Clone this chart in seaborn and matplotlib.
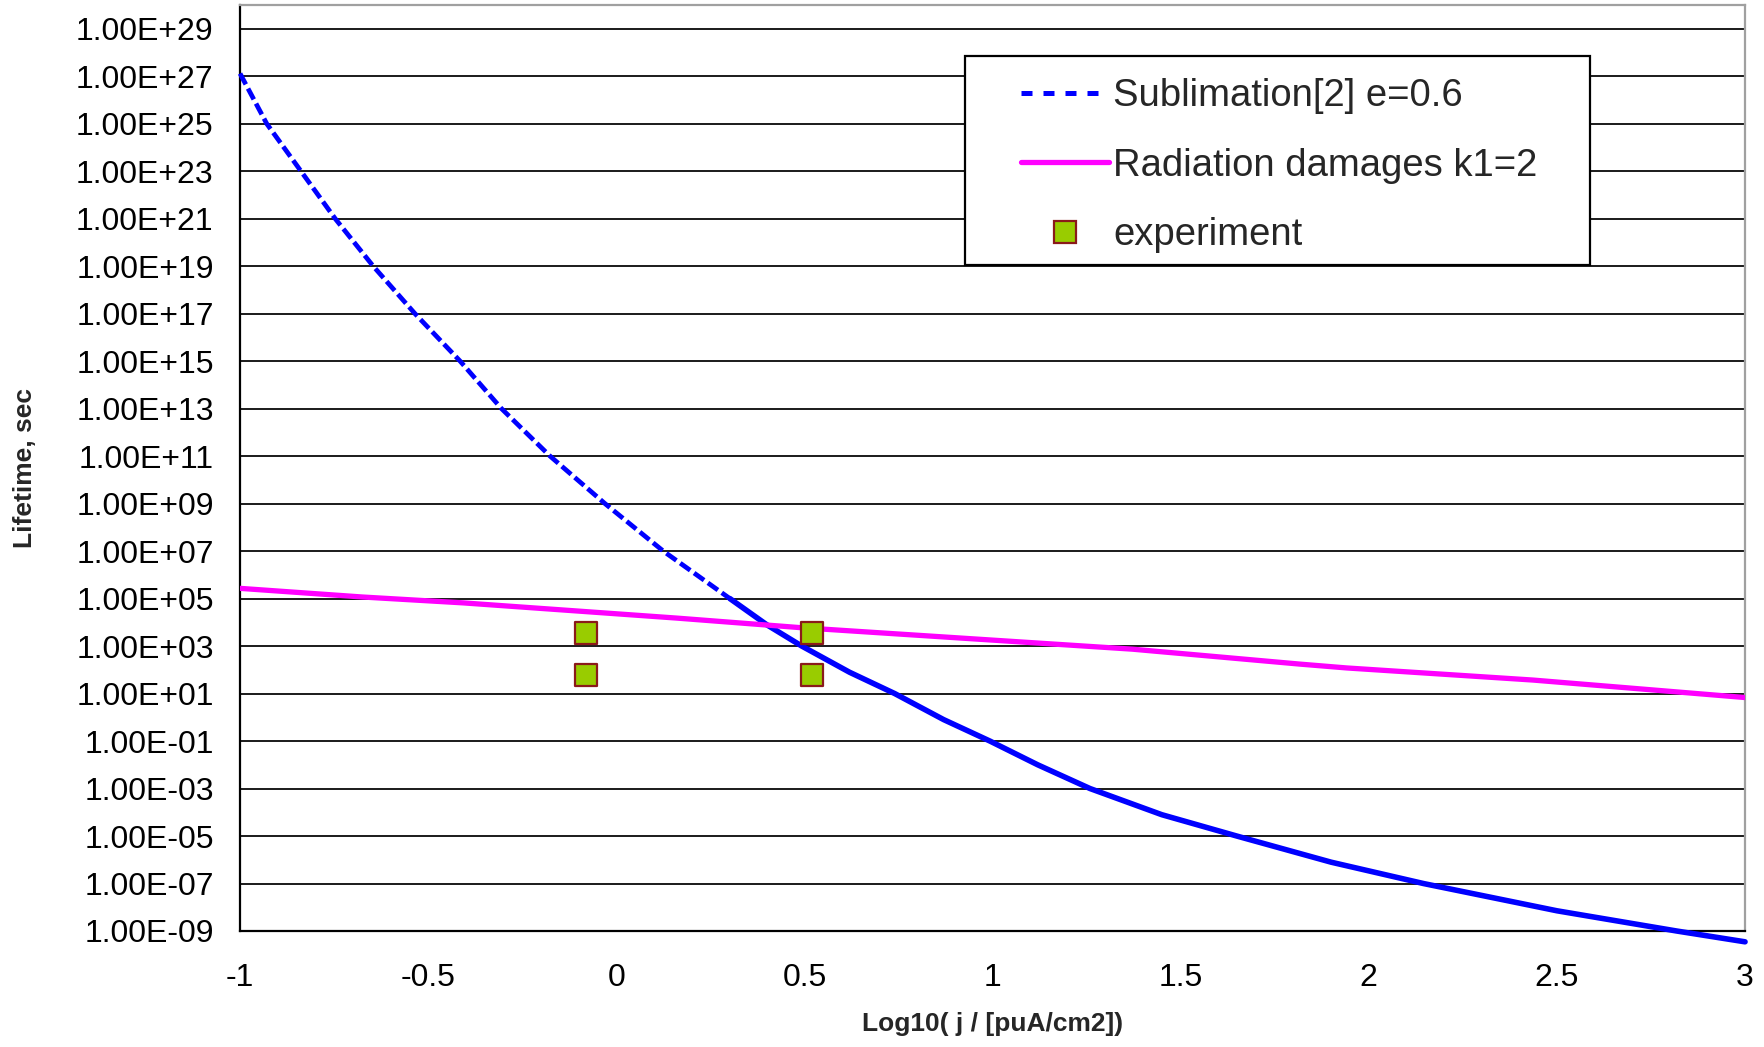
import numpy as np
import matplotlib
matplotlib.use("Agg")
import matplotlib.pyplot as plt
import seaborn as sns
from matplotlib.lines import Line2D
from matplotlib.patches import Rectangle
from matplotlib.ticker import FuncFormatter, FixedLocator

# sublimation curve (seconds)
sub_x = [-1.0, -0.929, -0.838, -0.747, -0.646, -0.535, -0.415, -0.305, -0.176, -0.030,
         0.125, 0.302, 0.4, 0.493, 0.62, 0.74, 0.87, 0.993, 1.12, 1.259, 1.45, 1.649,
         1.9, 2.145, 2.5, 2.818, 3.0]
sub_y = [1.3e27, 1e25, 1e23, 1e21, 1e19, 1e17, 1e15, 1e13, 1e11, 1e9,
         1e7, 1e5, 7.9e3, 1e3, 79, 10, 0.8, 0.1, 1e-2, 1e-3, 7.9e-5, 1e-5,
         7.9e-7, 1e-7, 7.1e-9, 1e-9, 3.5e-10]

# radiation damages curve
rad_x = [-1.0, -0.676, -0.407, 0.163, 0.488, 0.753, 1.372, 1.817, 1.941, 2.437, 3.0]
rad_y = [2.7e5, 1.17e5, 6.6e4, 1.5e4, 6.0e3, 3.2e3, 740, 174, 120, 37, 6.8]

# experiment points
exp_x = [-0.08, -0.08, 0.52, 0.52]
exp_y = [3600, 60, 3600, 60]

xticks = [-1, -0.5, 0, 0.5, 1, 1.5, 2, 2.5, 3]
yticks = [10.0 ** e for e in range(-9, 30, 2)]

labels = ["Sublimation[2] e=0.6", "Radiation damages k1=2", "experiment"]

sns.set_style("white")
plt.rcParams["font.family"] = ["Liberation Sans", "DejaVu Sans"]
plt.rcParams["axes.unicode_minus"] = False

fig = plt.figure(figsize=(17.65, 10.47), dpi=100)
ax = fig.add_axes([0.136, 0.1108, 0.8527, 0.8844])
ax.set_yscale("log")

sub_x = np.array(sub_x)
sub_y = np.array(sub_y)
top = sub_x <= 0.302
low = sub_x >= 0.302

sns.lineplot(x=sub_x[top], y=sub_y[top], ax=ax, color="blue", lw=3.4,
             linestyle=(0, (2.6, 1.0)), clip_on=False, zorder=3)
sns.lineplot(x=sub_x[low], y=sub_y[low], ax=ax, color="blue", lw=4.0,
             clip_on=False, zorder=3)
sns.lineplot(x=rad_x, y=rad_y, ax=ax, color="#FF00FF", lw=3.8, zorder=3)
sns.scatterplot(x=exp_x, y=exp_y, ax=ax, marker="s", s=240, color="#99CC00",
                edgecolor="#8B1A1A", linewidth=1.6, zorder=4)

ax.set_xlim(-1, 3)
ax.set_ylim(1e-9, 1e30)
ax.yaxis.set_major_locator(FixedLocator(yticks))
ax.yaxis.set_minor_locator(FixedLocator([]))
ax.yaxis.set_major_formatter(FuncFormatter(lambda v, p: f"{v:.2E}"))
ax.set_xticks(xticks)
ax.xaxis.set_major_formatter(FuncFormatter(lambda v, p: f"{v:g}"))

ax.grid(axis="y", color="#1a1a1a", lw=1.4)
ax.grid(axis="x", visible=False)
ax.tick_params(axis="both", labelsize=23, colors="black", direction="out",
               length=9, width=1.4)
ax.tick_params(axis="x", pad=14)
ax.tick_params(axis="y", pad=10)

for side in ["left", "bottom"]:
    ax.spines[side].set_color("black")
    ax.spines[side].set_linewidth(1.6)
for side in ["top", "right"]:
    ax.spines[side].set_color("#a0a0a0")
    ax.spines[side].set_linewidth(1.6)

ax.set_ylabel("Lifetime, sec", fontsize=19, fontweight="bold")
ax.set_xlabel("Log10( j / [puA/cm2])", fontsize=19, fontweight="bold")
ax.yaxis.set_label_coords(-0.135, 0.5)
ax.xaxis.set_label_coords(0.5, -0.088)

# legend box
box = Rectangle((0.5467, 0.7469), 0.3541, 0.1996, transform=fig.transFigure,
                facecolor="white", edgecolor="black", lw=1.6, zorder=5)
fig.patches.append(box)

handles = [
    Line2D([], [], color="blue", lw=3.6, linestyle=(0, (2.2, 2.2))),
    Line2D([], [], color="#FF00FF", lw=3.8),
    Line2D([], [], color="none", marker="s", markersize=16, markerfacecolor="#99CC00",
           markeredgecolor="#8B1A1A", markeredgewidth=1.6),
]
leg = fig.legend(handles, labels, loc="upper left", bbox_to_anchor=(0.5675, 0.9435),
                 frameon=False, fontsize=27.5, handlelength=2.3, handletextpad=0.12,
                 labelspacing=0.88, borderpad=0)
leg.set_zorder(6)

fig.savefig("out.png", dpi=100)
